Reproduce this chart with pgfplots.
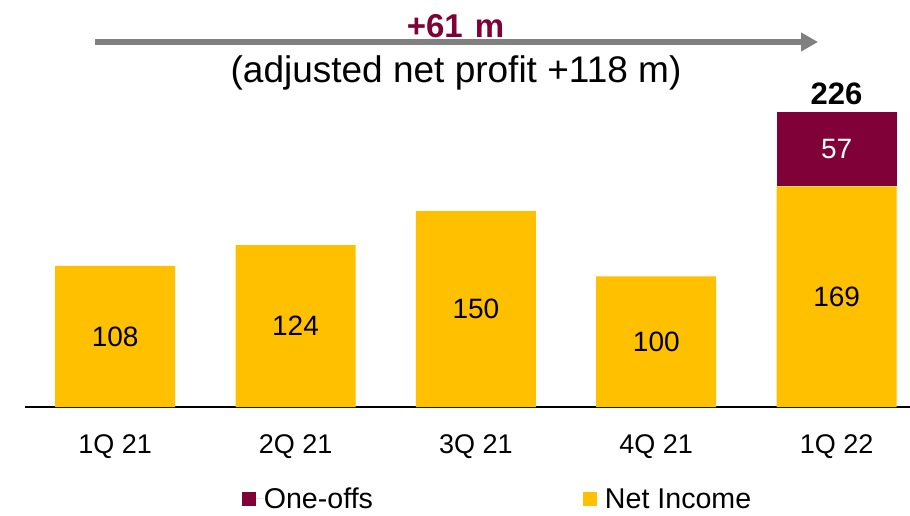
\documentclass[border=0pt]{standalone}
\usepackage{pgfplots}
\pgfplotsset{compat=1.18}
\usepackage{fontspec}
\setmainfont{Liberation Sans}
\usetikzlibrary{arrows.meta}
\definecolor{maroon}{RGB}{128,0,56}
\definecolor{gold}{RGB}{255,192,0}
\definecolor{arrowgray}{RGB}{128,128,128}
\begin{document}
\begin{tikzpicture}
\path[use as bounding box] (0pt,0pt) rectangle (910pt,515pt);
\begin{axis}[
  at={(25pt,108pt)}, anchor=south west,
  scale only axis, width=885pt, height=407pt,
  xmin=-0.5, xmax=4.407, ymin=0, ymax=311.6,
  enlargelimits=false,
  ybar stacked, bar width=120pt,
  axis x line=bottom, axis y line=none,
  x axis line style={-, line width=2.5pt, black},
  xtick={0,1,2,3,4},
  xticklabels={1Q 21,2Q 21,3Q 21,4Q 21,1Q 22},
  major tick length=0pt,
  xticklabel style={anchor=base, yshift=-46pt, font=\fontsize{27}{32}\selectfont},
  clip=false,
  reverse legend,
  legend columns=2,
  legend style={at={(0.5328,-0.2260)}, anchor=center, draw=none, fill=none,
    font=\fontsize{28.6}{33}\selectfont, inner sep=0pt,
    nodes={inner sep=0pt},
    /tikz/every even column/.append style={column sep=210pt}},
  legend image code/.code={\fill[#1] (0pt,-7pt) rectangle (14pt,7pt); \path (0pt,0pt) -- (22pt,0pt);},
]
\addplot[fill=gold, draw=none] coordinates {(0,108) (1,124) (2,150) (3,100) (4,169)};
\addlegendentry{Net Income}
\addplot[fill=maroon, draw=none] coordinates {(0,0) (1,0) (2,0) (3,0) (4,57)};
\addlegendentry{One-offs}
\end{axis}
\begin{scope}[every node/.style={font=\fontsize{28}{33}\selectfont, inner sep=0pt}]
\node at (115.2pt,178.5pt) {108};
\node at (295.5pt,189.0pt) {124};
\node at (475.9pt,206.0pt) {150};
\node at (656.3pt,173.3pt) {100};
\node at (836.6pt,218.4pt) {169};
\node[text=white] at (836.6pt,365.9pt) {57};
\end{scope}
\node[font=\fontsize{31}{36}\selectfont\bfseries, anchor=base, inner sep=0pt] at (836.6pt,410pt) {226};
\draw[line width=6pt, arrowgray, -{Triangle[length=17pt,width=18pt]}] (95pt,473pt) -- (818pt,473pt);
\node[anchor=base, inner sep=0pt, text=maroon, font=\fontsize{33}{38}\selectfont\bfseries] at (455.5pt,477pt) {+61\hspace{12pt}m};
\node[anchor=base, inner sep=0pt, font=\fontsize{37}{42}\selectfont] at (456pt,432pt) {(adjusted net profit +118 m)};
\end{tikzpicture}
\end{document}
